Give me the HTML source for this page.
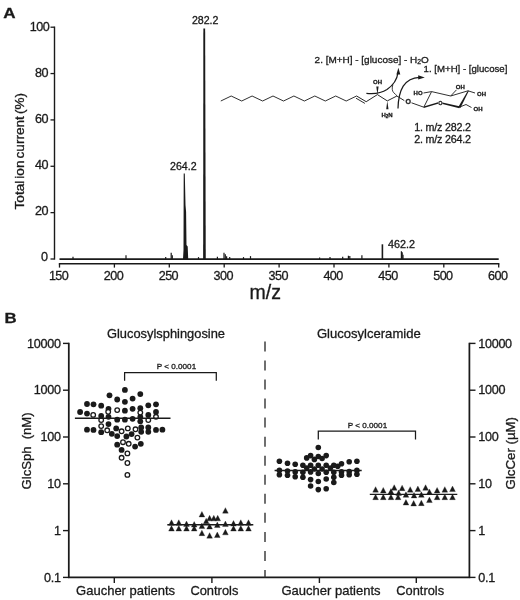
<!DOCTYPE html><html><head><meta charset="utf-8"><title>Figure</title>
<style>html,body{margin:0;padding:0;background:#fff}svg{display:block;filter:blur(0.4px)}text{font-family:"Liberation Sans",sans-serif;fill:#1a1a1a;stroke:#1a1a1a;stroke-width:0.3px}</style></head><body>
<svg width="520" height="600" viewBox="0 0 520 600">
<rect width="520" height="600" fill="#fff"/>
<text transform="translate(3.3,17.65) scale(1.17,1)" font-size="14.6" font-weight="bold">A</text>
<line x1="54.5" y1="26.55" x2="54.5" y2="259.65" stroke="#1a1a1a" stroke-width="1.4"/>
<line x1="50.5" y1="259.00" x2="54.5" y2="259.00" stroke="#1a1a1a" stroke-width="1.3"/>
<text x="47.5" y="261.20" font-size="12.6" text-anchor="end" letter-spacing="-0.5">0</text>
<line x1="50.5" y1="212.64" x2="54.5" y2="212.64" stroke="#1a1a1a" stroke-width="1.3"/>
<text x="47.9" y="215.24" font-size="12.6" text-anchor="end" letter-spacing="-0.5">20</text>
<line x1="50.5" y1="166.28" x2="54.5" y2="166.28" stroke="#1a1a1a" stroke-width="1.3"/>
<text x="47.9" y="169.28" font-size="12.6" text-anchor="end" letter-spacing="-0.5">40</text>
<line x1="50.5" y1="119.92" x2="54.5" y2="119.92" stroke="#1a1a1a" stroke-width="1.3"/>
<text x="47.9" y="123.32" font-size="12.6" text-anchor="end" letter-spacing="-0.5">60</text>
<line x1="50.5" y1="73.56" x2="54.5" y2="73.56" stroke="#1a1a1a" stroke-width="1.3"/>
<text x="47.9" y="77.36" font-size="12.6" text-anchor="end" letter-spacing="-0.5">80</text>
<line x1="50.5" y1="27.20" x2="54.5" y2="27.20" stroke="#1a1a1a" stroke-width="1.3"/>
<text x="49.2" y="31.40" font-size="12.6" text-anchor="end" letter-spacing="-0.5">100</text>
<text transform="translate(23.5,151.2) rotate(-90)" font-size="12" text-anchor="middle" textLength="116.5" lengthAdjust="spacingAndGlyphs" word-spacing="-1.5">Total ion current (%)</text>
<line x1="58.8" y1="263.75" x2="499.4" y2="263.75" stroke="#1a1a1a" stroke-width="1.7"/>
<line x1="59.50" y1="263.75" x2="59.50" y2="267.6" stroke="#1a1a1a" stroke-width="1.3"/>
<text x="58.60" y="280" font-size="12.6" text-anchor="middle" letter-spacing="-0.55">150</text>
<line x1="114.40" y1="263.75" x2="114.40" y2="267.6" stroke="#1a1a1a" stroke-width="1.3"/>
<text x="113.50" y="280" font-size="12.6" text-anchor="middle" letter-spacing="-0.55">200</text>
<line x1="169.30" y1="263.75" x2="169.30" y2="267.6" stroke="#1a1a1a" stroke-width="1.3"/>
<text x="168.40" y="280" font-size="12.6" text-anchor="middle" letter-spacing="-0.55">250</text>
<line x1="224.20" y1="263.75" x2="224.20" y2="267.6" stroke="#1a1a1a" stroke-width="1.3"/>
<text x="223.30" y="280" font-size="12.6" text-anchor="middle" letter-spacing="-0.55">300</text>
<line x1="279.10" y1="263.75" x2="279.10" y2="267.6" stroke="#1a1a1a" stroke-width="1.3"/>
<text x="278.20" y="280" font-size="12.6" text-anchor="middle" letter-spacing="-0.55">350</text>
<line x1="334.00" y1="263.75" x2="334.00" y2="267.6" stroke="#1a1a1a" stroke-width="1.3"/>
<text x="333.10" y="280" font-size="12.6" text-anchor="middle" letter-spacing="-0.55">400</text>
<line x1="388.90" y1="263.75" x2="388.90" y2="267.6" stroke="#1a1a1a" stroke-width="1.3"/>
<text x="388.00" y="280" font-size="12.6" text-anchor="middle" letter-spacing="-0.55">450</text>
<line x1="443.80" y1="263.75" x2="443.80" y2="267.6" stroke="#1a1a1a" stroke-width="1.3"/>
<text x="442.90" y="280" font-size="12.6" text-anchor="middle" letter-spacing="-0.55">500</text>
<line x1="498.70" y1="263.75" x2="498.70" y2="267.6" stroke="#1a1a1a" stroke-width="1.3"/>
<text x="497.80" y="280" font-size="12.6" text-anchor="middle" letter-spacing="-0.55">600</text>
<text x="249.5" y="298.6" font-size="19.5">m/z</text>
<line x1="59.5" y1="259.1" x2="498.7" y2="259.1" stroke="#1a1a1a" stroke-width="1.8"/>
<path d="M203.35 28.5 L205.15 28.5 L205.75 259.0 L203.15 259.0 Z" fill="#1a1a1a"/>
<path d="M183.7 173.5 L184.8 173.5 L185.5 205 L186.1 212 L186.5 245 L187.7 246.5 L188.2 259.0 L183.0 259.0 L183.5 250 Z" fill="#1a1a1a"/>
<line x1="73.00" y1="256.80" x2="73.00" y2="259.0" stroke="#1a1a1a" stroke-width="1.2"/>
<line x1="126.00" y1="255.30" x2="126.00" y2="259.0" stroke="#1a1a1a" stroke-width="1.2"/>
<line x1="165.70" y1="257.10" x2="165.70" y2="259.0" stroke="#1a1a1a" stroke-width="1.2"/>
<line x1="171.20" y1="252.80" x2="171.20" y2="259.0" stroke="#1a1a1a" stroke-width="1.2"/>
<line x1="172.30" y1="255.30" x2="172.30" y2="259.0" stroke="#1a1a1a" stroke-width="1.2"/>
<line x1="198.50" y1="257.10" x2="198.50" y2="259.0" stroke="#1a1a1a" stroke-width="1.2"/>
<line x1="217.40" y1="256.80" x2="217.40" y2="259.0" stroke="#1a1a1a" stroke-width="1.2"/>
<line x1="224.00" y1="252.80" x2="224.00" y2="259.0" stroke="#1a1a1a" stroke-width="1.2"/>
<line x1="225.30" y1="254.30" x2="225.30" y2="259.0" stroke="#1a1a1a" stroke-width="1.2"/>
<line x1="226.60" y1="256.30" x2="226.60" y2="259.0" stroke="#1a1a1a" stroke-width="1.2"/>
<line x1="229.70" y1="257.10" x2="229.70" y2="259.0" stroke="#1a1a1a" stroke-width="1.2"/>
<line x1="243.50" y1="257.10" x2="243.50" y2="259.0" stroke="#1a1a1a" stroke-width="1.2"/>
<line x1="250.50" y1="256.10" x2="250.50" y2="259.0" stroke="#1a1a1a" stroke-width="1.2"/>
<line x1="319.60" y1="257.50" x2="319.60" y2="259.0" stroke="#1a1a1a" stroke-width="1.2"/>
<line x1="330.00" y1="257.10" x2="330.00" y2="259.0" stroke="#1a1a1a" stroke-width="1.2"/>
<line x1="342.70" y1="256.70" x2="342.70" y2="259.0" stroke="#1a1a1a" stroke-width="1.2"/>
<line x1="348.40" y1="255.70" x2="348.40" y2="259.0" stroke="#1a1a1a" stroke-width="1.2"/>
<line x1="349.80" y1="256.10" x2="349.80" y2="259.0" stroke="#1a1a1a" stroke-width="1.2"/>
<line x1="361.90" y1="255.30" x2="361.90" y2="259.0" stroke="#1a1a1a" stroke-width="1.2"/>
<line x1="401.40" y1="251.30" x2="401.40" y2="259.0" stroke="#1a1a1a" stroke-width="1.2"/>
<line x1="402.20" y1="252.30" x2="402.20" y2="259.0" stroke="#1a1a1a" stroke-width="1.2"/>
<line x1="403.00" y1="254.80" x2="403.00" y2="259.0" stroke="#1a1a1a" stroke-width="1.2"/>
<line x1="382.40" y1="244.30" x2="382.40" y2="259.0" stroke="#1a1a1a" stroke-width="1.6"/>
<text x="205.2" y="24.2" font-size="10.6" text-anchor="middle" textLength="26.6" lengthAdjust="spacingAndGlyphs">282.2</text>
<text x="183.3" y="169.8" font-size="10.6" text-anchor="middle" textLength="26.6" lengthAdjust="spacingAndGlyphs">264.2</text>
<text x="401.6" y="247.9" font-size="10.3" text-anchor="middle" textLength="27" lengthAdjust="spacingAndGlyphs">462.2</text>
<path d="M220.8 101.0 L231.2 96.0 L241.7 101.0 L252.1 96.0 L262.6 101.0 L273.0 96.0 L283.5 101.0 L293.9 96.0 L304.4 101.0 L314.8 96.0 L325.3 101.0 L335.7 96.0 L346.2 101.0 L356.6 96.0" stroke="#1a1a1a" fill="none" stroke-width="0.9"/>
<path d="M356.6 96.0 L366.2 101.7 L377.4 94.6 L387.3 100.9 L396.9 96.0 L404.3 100.6" stroke="#1a1a1a" fill="none" stroke-width="0.95"/>
<path d="M356.0 98.2 L364.9 103.4" stroke="#1a1a1a" fill="none" stroke-width="0.9"/>
<path d="M377.4 94.6 L376.3 86.6 L378.6 86.6 Z" fill="#1a1a1a"/>
<text x="377.5" y="84" font-size="6" font-weight="bold" text-anchor="middle" stroke="none">OH</text>
<path d="M387.3 100.9 L386.2 109.2 L388.5 109.2 Z" fill="#1a1a1a"/>
<text x="387" y="117" font-size="6" font-weight="bold" text-anchor="middle" stroke="none">H<tspan font-size="4.5" dy="1">2</tspan><tspan dy="-1">N</tspan></text>
<text x="408.2" y="104" font-size="7" font-weight="bold" text-anchor="middle" stroke="none">O</text>
<path d="M411.5 102.8 L423.8 107.2" stroke="#1a1a1a" fill="none" stroke-width="0.9"/>
<path d="M423.8 107.2 L431.6 91.6 L450.7 96 L468 90.8" stroke="#1a1a1a" fill="none" stroke-width="0.9"/>
<path d="M423.8 106.6 L438 102.3 L438 103.8 L423.8 107.9 Z" fill="#1a1a1a"/>
<path d="M442.5 102.6 L459.3 106.2 L459.3 108.3 L442.5 103.9 Z" fill="#1a1a1a"/>
<path d="M468 90.6 L468.8 91 L460.4 108 L458.3 107 Z" fill="#1a1a1a"/>
<text x="440.3" y="105.2" font-size="5.5" font-weight="bold" text-anchor="middle" stroke="none">O</text>
<path d="M423.5 93 L431.6 91.6" stroke="#1a1a1a" fill="none" stroke-width="0.9"/>
<text x="418.1" y="94.8" font-size="6" font-weight="bold" text-anchor="middle" stroke="none">HO</text>
<path d="M450.7 96 L456.5 89.8" stroke="#1a1a1a" fill="none" stroke-width="0.9"/>
<text x="460.3" y="89.4" font-size="6" font-weight="bold" text-anchor="middle" stroke="none">OH</text>
<path d="M468 90.8 L475 93" stroke="#1a1a1a" fill="none" stroke-width="0.9"/>
<text x="481.5" y="95.6" font-size="6" font-weight="bold" text-anchor="middle" stroke="none">OH</text>
<path d="M459.3 107.2 L466 104.5 L471.5 107.5" stroke="#1a1a1a" fill="none" stroke-width="0.9"/>
<text x="478" y="111.2" font-size="6" font-weight="bold" text-anchor="middle" stroke="none">OH</text>
<path d="M366.4 93.3 C376 94.2 382 92.8 387 89.5 C393.5 85 397.2 79 398.0 72.5" stroke="#1a1a1a" fill="none" stroke-width="1.25"/>
<path d="M398.4 67.8 L396.4 74.4 L400.3 74.4 Z" fill="#1a1a1a"/>
<path d="M392.9 84.6 C391.8 88 392 91 393.8 92.8 C395 94 396 94.8 397 95.8" stroke="#1a1a1a" fill="none" stroke-width="0.85"/>
<path d="M398.0 108.6 C398.2 100 399.6 92 403.2 86.2 C407 80.5 412.5 77.6 419.5 77.4" stroke="#1a1a1a" fill="none" stroke-width="1.25"/>
<path d="M424.8 77.4 L418.2 75.2 L418.2 79.6 Z" fill="#1a1a1a"/>
<text x="314.6" y="62.6" font-size="9.5" textLength="114.2" lengthAdjust="spacingAndGlyphs">2. [M+H] - [glucose] - H<tspan font-size="6.5" dy="1.8">2</tspan><tspan dy="-1.8">O</tspan></text>
<text x="423.6" y="72.1" font-size="9.5" textLength="83.8" lengthAdjust="spacingAndGlyphs">1. [M+H] - [glucose]</text>
<text x="414.3" y="130.6" font-size="10.7" letter-spacing="-0.2">1. m/z 282.2</text>
<text x="414.3" y="143.3" font-size="10.7" letter-spacing="-0.2">2. m/z 264.2</text>
<text transform="translate(4.6,323.4) scale(1.16,1)" font-size="14.5" font-weight="bold">B</text>
<path d="M68.8 342.7 L68.8 577.4 L469.4 577.4 L469.4 342.7" stroke="#1a1a1a" fill="none" stroke-width="1.75"/>
<line x1="63" y1="343.40" x2="68.8" y2="343.40" stroke="#1a1a1a" stroke-width="1.4"/>
<line x1="469.4" y1="343.40" x2="475.5" y2="343.40" stroke="#1a1a1a" stroke-width="1.4"/>
<text x="60.6" y="347.60" font-size="12.6" text-anchor="end" letter-spacing="-0.3">10000</text>
<text x="478.3" y="347.60" font-size="12.6" letter-spacing="-0.3">10000</text>
<line x1="63" y1="390.20" x2="68.8" y2="390.20" stroke="#1a1a1a" stroke-width="1.4"/>
<line x1="469.4" y1="390.20" x2="475.5" y2="390.20" stroke="#1a1a1a" stroke-width="1.4"/>
<text x="60.6" y="394.40" font-size="12.6" text-anchor="end" letter-spacing="-0.3">1000</text>
<text x="478.3" y="394.40" font-size="12.6" letter-spacing="-0.3">1000</text>
<line x1="63" y1="437.00" x2="68.8" y2="437.00" stroke="#1a1a1a" stroke-width="1.4"/>
<line x1="469.4" y1="437.00" x2="475.5" y2="437.00" stroke="#1a1a1a" stroke-width="1.4"/>
<text x="60.6" y="441.30" font-size="12.6" text-anchor="end" letter-spacing="-0.3">100</text>
<text x="478.3" y="441.30" font-size="12.6" letter-spacing="-0.3">100</text>
<line x1="63" y1="483.80" x2="68.8" y2="483.80" stroke="#1a1a1a" stroke-width="1.4"/>
<line x1="469.4" y1="483.80" x2="475.5" y2="483.80" stroke="#1a1a1a" stroke-width="1.4"/>
<text x="60.6" y="488.20" font-size="12.6" text-anchor="end" letter-spacing="-0.3">10</text>
<text x="478.3" y="488.20" font-size="12.6" letter-spacing="-0.3">10</text>
<line x1="63" y1="530.60" x2="68.8" y2="530.60" stroke="#1a1a1a" stroke-width="1.4"/>
<line x1="469.4" y1="530.60" x2="475.5" y2="530.60" stroke="#1a1a1a" stroke-width="1.4"/>
<text x="60.6" y="535.10" font-size="12.6" text-anchor="end" letter-spacing="-0.3">1</text>
<text x="478.3" y="535.10" font-size="12.6" letter-spacing="-0.3">1</text>
<line x1="63" y1="577.40" x2="68.8" y2="577.40" stroke="#1a1a1a" stroke-width="1.4"/>
<line x1="469.4" y1="577.40" x2="475.5" y2="577.40" stroke="#1a1a1a" stroke-width="1.4"/>
<text x="60.6" y="581.90" font-size="12.6" text-anchor="end" letter-spacing="-0.3">0.1</text>
<text x="478.3" y="581.90" font-size="12.6" letter-spacing="-0.3">0.1</text>
<line x1="114.3" y1="577.4" x2="114.3" y2="583" stroke="#1a1a1a" stroke-width="1.4"/>
<line x1="211.9" y1="577.4" x2="211.9" y2="583" stroke="#1a1a1a" stroke-width="1.4"/>
<line x1="319.4" y1="577.4" x2="319.4" y2="583" stroke="#1a1a1a" stroke-width="1.4"/>
<line x1="416.3" y1="577.4" x2="416.3" y2="583" stroke="#1a1a1a" stroke-width="1.4"/>
<text transform="translate(30.6,450.9) rotate(-90)" font-size="13" text-anchor="middle" textLength="77" lengthAdjust="spacingAndGlyphs">GlcSph&#160;&#160;(nM)</text>
<text transform="translate(514.6,453.2) rotate(-90)" font-size="13" text-anchor="middle" textLength="72.4" lengthAdjust="spacingAndGlyphs">GlcCer (&#181;M)</text>
<text x="166" y="337.7" font-size="13.1" text-anchor="middle" textLength="118" lengthAdjust="spacingAndGlyphs">Glucosylsphingosine</text>
<text x="368.8" y="337.7" font-size="13.1" text-anchor="middle" textLength="103.8" lengthAdjust="spacingAndGlyphs">Glucosylceramide</text>
<text x="125.6" y="594.7" font-size="13.1" text-anchor="middle" textLength="99" lengthAdjust="spacingAndGlyphs">Gaucher patients</text>
<text x="214.4" y="594.7" font-size="13.1" text-anchor="middle" textLength="48" lengthAdjust="spacingAndGlyphs">Controls</text>
<text x="331" y="594.7" font-size="13.1" text-anchor="middle" textLength="99.2" lengthAdjust="spacingAndGlyphs">Gaucher patients</text>
<text x="420.2" y="594.7" font-size="13.1" text-anchor="middle" textLength="47.8" lengthAdjust="spacingAndGlyphs">Controls</text>
<line x1="265" y1="341.4" x2="265" y2="577.4" stroke="#333" stroke-width="1.4" stroke-dasharray="10 9.05"/>
<path d="M124.6 380.8 L124.6 372.6 L216.3 372.6 L216.3 380.8" stroke="#1a1a1a" fill="none" stroke-width="1.25"/>
<text x="176.5" y="368.7" font-size="7.9" text-anchor="middle" textLength="39.3" lengthAdjust="spacingAndGlyphs">P &lt; 0.0001</text>
<path d="M318.3 439.6 L318.3 431.2 L415.5 431.2 L415.5 439.6" stroke="#1a1a1a" fill="none" stroke-width="1.25"/>
<text x="367.5" y="428" font-size="7.9" text-anchor="middle" textLength="39.3" lengthAdjust="spacingAndGlyphs">P &lt; 0.0001</text>
<circle cx="80.1" cy="412.0" r="2.9" fill="#1a1a1a"/>
<circle cx="87" cy="404.0" r="2.9" fill="#1a1a1a"/>
<circle cx="87" cy="413.6" r="2.9" fill="#1a1a1a"/>
<circle cx="87" cy="429.7" r="2.9" fill="#1a1a1a"/>
<circle cx="93.5" cy="404.3" r="2.9" fill="#1a1a1a"/>
<circle cx="93.5" cy="429.90000000000003" r="2.9" fill="#1a1a1a"/>
<circle cx="101.2" cy="405.7" r="2.9" fill="#1a1a1a"/>
<circle cx="101.2" cy="415.90000000000003" r="2.9" fill="#1a1a1a"/>
<circle cx="101.2" cy="432.2" r="2.9" fill="#1a1a1a"/>
<circle cx="109.5" cy="395.3" r="2.9" fill="#1a1a1a"/>
<circle cx="108.5" cy="408.8" r="2.9" fill="#1a1a1a"/>
<circle cx="108.5" cy="416.8" r="2.9" fill="#1a1a1a"/>
<circle cx="108.5" cy="424.1" r="2.9" fill="#1a1a1a"/>
<circle cx="111.8" cy="433.8" r="2.9" fill="#1a1a1a"/>
<circle cx="117.2" cy="399.5" r="2.9" fill="#1a1a1a"/>
<circle cx="117.2" cy="419.7" r="2.9" fill="#1a1a1a"/>
<circle cx="116.2" cy="428.40000000000003" r="2.9" fill="#1a1a1a"/>
<circle cx="117.2" cy="436.1" r="2.9" fill="#1a1a1a"/>
<circle cx="117.2" cy="444.7" r="2.9" fill="#1a1a1a"/>
<circle cx="121.6" cy="449.90000000000003" r="2.9" fill="#1a1a1a"/>
<circle cx="124.9" cy="389.90000000000003" r="2.9" fill="#1a1a1a"/>
<circle cx="124.9" cy="401.8" r="2.9" fill="#1a1a1a"/>
<circle cx="124.9" cy="410.7" r="2.9" fill="#1a1a1a"/>
<circle cx="124.9" cy="419.7" r="2.9" fill="#1a1a1a"/>
<circle cx="126.4" cy="436.5" r="2.9" fill="#1a1a1a"/>
<circle cx="132.6" cy="398.6" r="2.9" fill="#1a1a1a"/>
<circle cx="132.6" cy="408.8" r="2.9" fill="#1a1a1a"/>
<circle cx="132.6" cy="418.8" r="2.9" fill="#1a1a1a"/>
<circle cx="131.6" cy="434.1" r="2.9" fill="#1a1a1a"/>
<circle cx="135.1" cy="446.6" r="2.9" fill="#1a1a1a"/>
<circle cx="140.3" cy="394.1" r="2.9" fill="#1a1a1a"/>
<circle cx="140.3" cy="408.2" r="2.9" fill="#1a1a1a"/>
<circle cx="140.3" cy="416.8" r="2.9" fill="#1a1a1a"/>
<circle cx="140.3" cy="421.3" r="2.9" fill="#1a1a1a"/>
<circle cx="141.2" cy="427.40000000000003" r="2.9" fill="#1a1a1a"/>
<circle cx="141.2" cy="431.8" r="2.9" fill="#1a1a1a"/>
<circle cx="140.8" cy="443.8" r="2.9" fill="#1a1a1a"/>
<circle cx="148.3" cy="405.3" r="2.9" fill="#1a1a1a"/>
<circle cx="148.3" cy="414.90000000000003" r="2.9" fill="#1a1a1a"/>
<circle cx="148.3" cy="427.40000000000003" r="2.9" fill="#1a1a1a"/>
<circle cx="148.3" cy="431.8" r="2.9" fill="#1a1a1a"/>
<circle cx="156" cy="404.3" r="2.9" fill="#1a1a1a"/>
<circle cx="156" cy="412.0" r="2.9" fill="#1a1a1a"/>
<circle cx="156" cy="429.90000000000003" r="2.9" fill="#1a1a1a"/>
<circle cx="162.4" cy="429.7" r="2.9" fill="#1a1a1a"/>
<circle cx="93.2" cy="414.90000000000003" r="2.3" fill="#fff" stroke="#1a1a1a" stroke-width="1.3"/>
<circle cx="101.2" cy="420.1" r="2.3" fill="#fff" stroke="#1a1a1a" stroke-width="1.3"/>
<circle cx="101.2" cy="426.1" r="2.3" fill="#fff" stroke="#1a1a1a" stroke-width="1.3"/>
<circle cx="108.2" cy="411.8" r="2.3" fill="#fff" stroke="#1a1a1a" stroke-width="1.3"/>
<circle cx="107.2" cy="430.3" r="2.3" fill="#fff" stroke="#1a1a1a" stroke-width="1.3"/>
<circle cx="117.2" cy="410.1" r="2.3" fill="#fff" stroke="#1a1a1a" stroke-width="1.3"/>
<circle cx="121.6" cy="431.3" r="2.3" fill="#fff" stroke="#1a1a1a" stroke-width="1.3"/>
<circle cx="123" cy="442.2" r="2.3" fill="#fff" stroke="#1a1a1a" stroke-width="1.3"/>
<circle cx="121.6" cy="457.8" r="2.3" fill="#fff" stroke="#1a1a1a" stroke-width="1.3"/>
<circle cx="127.8" cy="428.40000000000003" r="2.3" fill="#fff" stroke="#1a1a1a" stroke-width="1.3"/>
<circle cx="128.7" cy="443.8" r="2.3" fill="#fff" stroke="#1a1a1a" stroke-width="1.3"/>
<circle cx="127.4" cy="453.40000000000003" r="2.3" fill="#fff" stroke="#1a1a1a" stroke-width="1.3"/>
<circle cx="127.4" cy="463.0" r="2.3" fill="#fff" stroke="#1a1a1a" stroke-width="1.3"/>
<circle cx="127.4" cy="474.90000000000003" r="2.3" fill="#fff" stroke="#1a1a1a" stroke-width="1.3"/>
<circle cx="135.5" cy="429.3" r="2.3" fill="#fff" stroke="#1a1a1a" stroke-width="1.3"/>
<circle cx="137.4" cy="437.6" r="2.3" fill="#fff" stroke="#1a1a1a" stroke-width="1.3"/>
<circle cx="140.3" cy="412.6" r="2.3" fill="#fff" stroke="#1a1a1a" stroke-width="1.3"/>
<circle cx="148.3" cy="420.1" r="2.3" fill="#fff" stroke="#1a1a1a" stroke-width="1.3"/>
<circle cx="156" cy="416.8" r="2.3" fill="#fff" stroke="#1a1a1a" stroke-width="1.3"/>
<line x1="74.9" y1="418.2" x2="170.5" y2="418.2" stroke="#1a1a1a" stroke-width="1.6"/>
<path d="M171.50 519.75 L174.35 525.25 L168.65 525.25 Z" fill="#1a1a1a" stroke="#1a1a1a" stroke-width="0.3" stroke-linejoin="round"/>
<path d="M171.50 525.55 L174.35 531.05 L168.65 531.05 Z" fill="#1a1a1a" stroke="#1a1a1a" stroke-width="0.3" stroke-linejoin="round"/>
<path d="M178.80 519.75 L181.65 525.25 L175.95 525.25 Z" fill="#1a1a1a" stroke="#1a1a1a" stroke-width="0.3" stroke-linejoin="round"/>
<path d="M178.80 525.55 L181.65 531.05 L175.95 531.05 Z" fill="#1a1a1a" stroke="#1a1a1a" stroke-width="0.3" stroke-linejoin="round"/>
<path d="M186.50 521.05 L189.35 526.55 L183.65 526.55 Z" fill="#1a1a1a" stroke="#1a1a1a" stroke-width="0.3" stroke-linejoin="round"/>
<path d="M186.50 525.55 L189.35 531.05 L183.65 531.05 Z" fill="#1a1a1a" stroke="#1a1a1a" stroke-width="0.3" stroke-linejoin="round"/>
<path d="M194.20 521.55 L197.05 527.05 L191.35 527.05 Z" fill="#1a1a1a" stroke="#1a1a1a" stroke-width="0.3" stroke-linejoin="round"/>
<path d="M194.20 525.55 L197.05 531.05 L191.35 531.05 Z" fill="#1a1a1a" stroke="#1a1a1a" stroke-width="0.3" stroke-linejoin="round"/>
<path d="M201.90 511.45 L204.75 516.95 L199.05 516.95 Z" fill="#1a1a1a" stroke="#1a1a1a" stroke-width="0.3" stroke-linejoin="round"/>
<path d="M201.90 523.05 L204.75 528.55 L199.05 528.55 Z" fill="#1a1a1a" stroke="#1a1a1a" stroke-width="0.3" stroke-linejoin="round"/>
<path d="M201.90 530.15 L204.75 535.65 L199.05 535.65 Z" fill="#1a1a1a" stroke="#1a1a1a" stroke-width="0.3" stroke-linejoin="round"/>
<path d="M206.20 518.25 L209.05 523.75 L203.35 523.75 Z" fill="#1a1a1a" stroke="#1a1a1a" stroke-width="0.3" stroke-linejoin="round"/>
<path d="M209.60 515.35 L212.45 520.85 L206.75 520.85 Z" fill="#1a1a1a" stroke="#1a1a1a" stroke-width="0.3" stroke-linejoin="round"/>
<path d="M209.60 523.55 L212.45 529.05 L206.75 529.05 Z" fill="#1a1a1a" stroke="#1a1a1a" stroke-width="0.3" stroke-linejoin="round"/>
<path d="M209.60 532.65 L212.45 538.15 L206.75 538.15 Z" fill="#1a1a1a" stroke="#1a1a1a" stroke-width="0.3" stroke-linejoin="round"/>
<path d="M213.80 515.35 L216.65 520.85 L210.95 520.85 Z" fill="#1a1a1a" stroke="#1a1a1a" stroke-width="0.3" stroke-linejoin="round"/>
<path d="M217.70 515.35 L220.55 520.85 L214.85 520.85 Z" fill="#1a1a1a" stroke="#1a1a1a" stroke-width="0.3" stroke-linejoin="round"/>
<path d="M217.30 522.05 L220.15 527.55 L214.45 527.55 Z" fill="#1a1a1a" stroke="#1a1a1a" stroke-width="0.3" stroke-linejoin="round"/>
<path d="M217.30 532.05 L220.15 537.55 L214.45 537.55 Z" fill="#1a1a1a" stroke="#1a1a1a" stroke-width="0.3" stroke-linejoin="round"/>
<path d="M225.40 507.65 L228.25 513.15 L222.55 513.15 Z" fill="#1a1a1a" stroke="#1a1a1a" stroke-width="0.3" stroke-linejoin="round"/>
<path d="M225.40 521.05 L228.25 526.55 L222.55 526.55 Z" fill="#1a1a1a" stroke="#1a1a1a" stroke-width="0.3" stroke-linejoin="round"/>
<path d="M225.40 529.35 L228.25 534.85 L222.55 534.85 Z" fill="#1a1a1a" stroke="#1a1a1a" stroke-width="0.3" stroke-linejoin="round"/>
<path d="M233.50 520.55 L236.35 526.05 L230.65 526.05 Z" fill="#1a1a1a" stroke="#1a1a1a" stroke-width="0.3" stroke-linejoin="round"/>
<path d="M233.50 525.55 L236.35 531.05 L230.65 531.05 Z" fill="#1a1a1a" stroke="#1a1a1a" stroke-width="0.3" stroke-linejoin="round"/>
<path d="M240.80 519.75 L243.65 525.25 L237.95 525.25 Z" fill="#1a1a1a" stroke="#1a1a1a" stroke-width="0.3" stroke-linejoin="round"/>
<path d="M240.80 525.55 L243.65 531.05 L237.95 531.05 Z" fill="#1a1a1a" stroke="#1a1a1a" stroke-width="0.3" stroke-linejoin="round"/>
<path d="M248.50 519.75 L251.35 525.25 L245.65 525.25 Z" fill="#1a1a1a" stroke="#1a1a1a" stroke-width="0.3" stroke-linejoin="round"/>
<path d="M248.50 525.55 L251.35 531.05 L245.65 531.05 Z" fill="#1a1a1a" stroke="#1a1a1a" stroke-width="0.3" stroke-linejoin="round"/>
<line x1="167.3" y1="524.8" x2="253.3" y2="524.8" stroke="#1a1a1a" stroke-width="1.4"/>
<circle cx="279.4" cy="461.3" r="2.8" fill="#1a1a1a"/>
<circle cx="279.4" cy="470.4" r="2.8" fill="#1a1a1a"/>
<circle cx="279.4" cy="474.8" r="2.8" fill="#1a1a1a"/>
<circle cx="287.5" cy="463.3" r="2.8" fill="#1a1a1a"/>
<circle cx="287.5" cy="471.0" r="2.8" fill="#1a1a1a"/>
<circle cx="287.5" cy="475.2" r="2.8" fill="#1a1a1a"/>
<circle cx="295.2" cy="464.2" r="2.8" fill="#1a1a1a"/>
<circle cx="295.2" cy="471.9" r="2.8" fill="#1a1a1a"/>
<circle cx="295.2" cy="476.7" r="2.8" fill="#1a1a1a"/>
<circle cx="302.9" cy="465.2" r="2.8" fill="#1a1a1a"/>
<circle cx="302.9" cy="472.3" r="2.8" fill="#1a1a1a"/>
<circle cx="302.9" cy="477.3" r="2.8" fill="#1a1a1a"/>
<circle cx="306.7" cy="457.9" r="2.8" fill="#1a1a1a"/>
<circle cx="306.7" cy="468.1" r="2.8" fill="#1a1a1a"/>
<circle cx="310.6" cy="455.6" r="2.8" fill="#1a1a1a"/>
<circle cx="310.6" cy="465.2" r="2.8" fill="#1a1a1a"/>
<circle cx="310.6" cy="471.9" r="2.8" fill="#1a1a1a"/>
<circle cx="310.6" cy="479.6" r="2.8" fill="#1a1a1a"/>
<circle cx="310.6" cy="486.0" r="2.8" fill="#1a1a1a"/>
<circle cx="314.4" cy="459.4" r="2.8" fill="#1a1a1a"/>
<circle cx="314.4" cy="469.0" r="2.8" fill="#1a1a1a"/>
<circle cx="318.3" cy="447.5" r="2.8" fill="#1a1a1a"/>
<circle cx="318.3" cy="456.5" r="2.8" fill="#1a1a1a"/>
<circle cx="318.3" cy="465.2" r="2.8" fill="#1a1a1a"/>
<circle cx="318.3" cy="473.5" r="2.8" fill="#1a1a1a"/>
<circle cx="318.3" cy="481.5" r="2.8" fill="#1a1a1a"/>
<circle cx="318.3" cy="489.6" r="2.8" fill="#1a1a1a"/>
<circle cx="322.1" cy="458.5" r="2.8" fill="#1a1a1a"/>
<circle cx="322.1" cy="469.0" r="2.8" fill="#1a1a1a"/>
<circle cx="326.2" cy="455.6" r="2.8" fill="#1a1a1a"/>
<circle cx="326.2" cy="465.2" r="2.8" fill="#1a1a1a"/>
<circle cx="326.2" cy="472.3" r="2.8" fill="#1a1a1a"/>
<circle cx="326.2" cy="479.0" r="2.8" fill="#1a1a1a"/>
<circle cx="326.2" cy="488.8" r="2.8" fill="#1a1a1a"/>
<circle cx="330.4" cy="468.1" r="2.8" fill="#1a1a1a"/>
<circle cx="333.8" cy="465.2" r="2.8" fill="#1a1a1a"/>
<circle cx="333.8" cy="472.3" r="2.8" fill="#1a1a1a"/>
<circle cx="333.8" cy="477.3" r="2.8" fill="#1a1a1a"/>
<circle cx="333.8" cy="482.5" r="2.8" fill="#1a1a1a"/>
<circle cx="337.7" cy="466.2" r="2.8" fill="#1a1a1a"/>
<circle cx="341.5" cy="463.8" r="2.8" fill="#1a1a1a"/>
<circle cx="341.5" cy="471.9" r="2.8" fill="#1a1a1a"/>
<circle cx="341.5" cy="475.2" r="2.8" fill="#1a1a1a"/>
<circle cx="349.2" cy="461.7" r="2.8" fill="#1a1a1a"/>
<circle cx="349.2" cy="471.5" r="2.8" fill="#1a1a1a"/>
<circle cx="349.2" cy="474.8" r="2.8" fill="#1a1a1a"/>
<circle cx="356.9" cy="461.3" r="2.8" fill="#1a1a1a"/>
<circle cx="356.9" cy="470.4" r="2.8" fill="#1a1a1a"/>
<circle cx="356.9" cy="474.2" r="2.8" fill="#1a1a1a"/>
<line x1="274.6" y1="470.4" x2="361.7" y2="470.4" stroke="#1a1a1a" stroke-width="1.5"/>
<path d="M375.58 486.67 L378.43 492.17 L372.73 492.17 Z" fill="#1a1a1a" stroke="#1a1a1a" stroke-width="0.3" stroke-linejoin="round"/>
<path d="M383.27 487.43 L386.12 492.93 L380.42 492.93 Z" fill="#1a1a1a" stroke="#1a1a1a" stroke-width="0.3" stroke-linejoin="round"/>
<path d="M390.96 488.59 L393.81 494.09 L388.11 494.09 Z" fill="#1a1a1a" stroke="#1a1a1a" stroke-width="0.3" stroke-linejoin="round"/>
<path d="M394.23 484.74 L397.08 490.24 L391.38 490.24 Z" fill="#1a1a1a" stroke="#1a1a1a" stroke-width="0.3" stroke-linejoin="round"/>
<path d="M402.12 485.13 L404.97 490.63 L399.27 490.63 Z" fill="#1a1a1a" stroke="#1a1a1a" stroke-width="0.3" stroke-linejoin="round"/>
<path d="M410.19 486.67 L413.04 492.17 L407.34 492.17 Z" fill="#1a1a1a" stroke="#1a1a1a" stroke-width="0.3" stroke-linejoin="round"/>
<path d="M417.88 486.09 L420.73 491.59 L415.03 491.59 Z" fill="#1a1a1a" stroke="#1a1a1a" stroke-width="0.3" stroke-linejoin="round"/>
<path d="M425.58 484.74 L428.43 490.24 L422.73 490.24 Z" fill="#1a1a1a" stroke="#1a1a1a" stroke-width="0.3" stroke-linejoin="round"/>
<path d="M429.42 488.97 L432.27 494.47 L426.57 494.47 Z" fill="#1a1a1a" stroke="#1a1a1a" stroke-width="0.3" stroke-linejoin="round"/>
<path d="M437.12 487.43 L439.97 492.93 L434.27 492.93 Z" fill="#1a1a1a" stroke="#1a1a1a" stroke-width="0.3" stroke-linejoin="round"/>
<path d="M444.81 486.67 L447.66 492.17 L441.96 492.17 Z" fill="#1a1a1a" stroke="#1a1a1a" stroke-width="0.3" stroke-linejoin="round"/>
<path d="M452.50 486.09 L455.35 491.59 L449.65 491.59 Z" fill="#1a1a1a" stroke="#1a1a1a" stroke-width="0.3" stroke-linejoin="round"/>
<path d="M375.58 494.17 L378.43 499.67 L372.73 499.67 Z" fill="#1a1a1a" stroke="#1a1a1a" stroke-width="0.3" stroke-linejoin="round"/>
<path d="M383.27 494.17 L386.12 499.67 L380.42 499.67 Z" fill="#1a1a1a" stroke="#1a1a1a" stroke-width="0.3" stroke-linejoin="round"/>
<path d="M390.96 494.17 L393.81 499.67 L388.11 499.67 Z" fill="#1a1a1a" stroke="#1a1a1a" stroke-width="0.3" stroke-linejoin="round"/>
<path d="M398.08 494.17 L400.93 499.67 L395.23 499.67 Z" fill="#1a1a1a" stroke="#1a1a1a" stroke-width="0.3" stroke-linejoin="round"/>
<path d="M437.12 494.17 L439.97 499.67 L434.27 499.67 Z" fill="#1a1a1a" stroke="#1a1a1a" stroke-width="0.3" stroke-linejoin="round"/>
<path d="M444.81 494.17 L447.66 499.67 L441.96 499.67 Z" fill="#1a1a1a" stroke="#1a1a1a" stroke-width="0.3" stroke-linejoin="round"/>
<path d="M452.50 494.17 L455.35 499.67 L449.65 499.67 Z" fill="#1a1a1a" stroke="#1a1a1a" stroke-width="0.3" stroke-linejoin="round"/>
<path d="M405.96 499.55 L408.81 505.05 L403.11 505.05 Z" fill="#1a1a1a" stroke="#1a1a1a" stroke-width="0.3" stroke-linejoin="round"/>
<path d="M413.65 500.51 L416.50 506.01 L410.80 506.01 Z" fill="#1a1a1a" stroke="#1a1a1a" stroke-width="0.3" stroke-linejoin="round"/>
<path d="M421.35 500.13 L424.20 505.63 L418.50 505.63 Z" fill="#1a1a1a" stroke="#1a1a1a" stroke-width="0.3" stroke-linejoin="round"/>
<path d="M429.42 497.05 L432.27 502.55 L426.57 502.55 Z" fill="#1a1a1a" stroke="#1a1a1a" stroke-width="0.3" stroke-linejoin="round"/>
<path d="M398.65 489.93 L401.50 495.43 L395.80 495.43 Z" fill="#1a1a1a" stroke="#1a1a1a" stroke-width="0.3" stroke-linejoin="round"/>
<path d="M405.96 491.86 L408.81 497.36 L403.11 497.36 Z" fill="#1a1a1a" stroke="#1a1a1a" stroke-width="0.3" stroke-linejoin="round"/>
<path d="M414.04 492.43 L416.89 497.93 L411.19 497.93 Z" fill="#1a1a1a" stroke="#1a1a1a" stroke-width="0.3" stroke-linejoin="round"/>
<path d="M421.35 491.86 L424.20 497.36 L418.50 497.36 Z" fill="#1a1a1a" stroke="#1a1a1a" stroke-width="0.3" stroke-linejoin="round"/>
<line x1="369.8" y1="494.4" x2="457.3" y2="494.4" stroke="#1a1a1a" stroke-width="1.4"/>
</svg></body></html>
